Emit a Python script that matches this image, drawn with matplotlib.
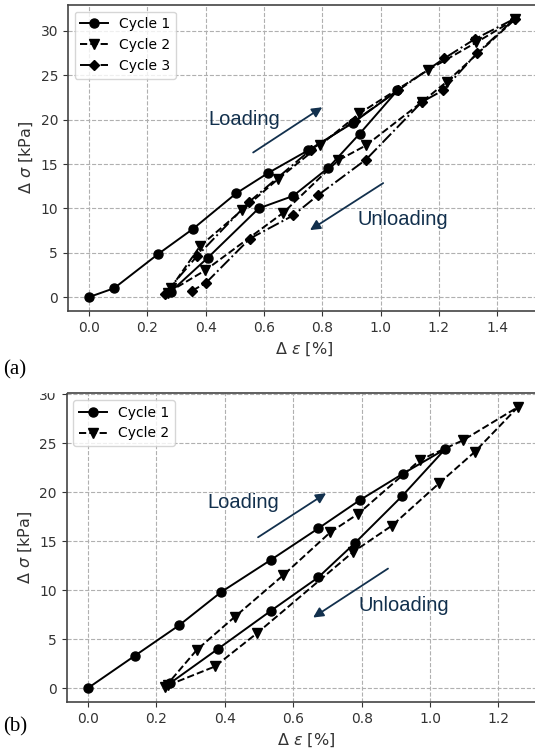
import numpy as np
import matplotlib.pyplot as plt
from matplotlib.patches import Rectangle

# (a) three cycles: loading then unloading, strain in %, stress in kPa
a_c1_x = [0.0, 0.086, 0.237, 0.357, 0.505, 0.615, 0.752, 0.906, 1.058,
          0.928, 0.82, 0.70, 0.582, 0.408, 0.280]
a_c1_y = [0.0, 1.0, 4.85, 7.7, 11.7, 14.0, 16.55, 19.65, 23.3,
          18.4, 14.55, 11.4, 10.0, 4.45, 0.6]
a_c2_x = [0.28, 0.381, 0.525, 0.648, 0.792, 0.927, 1.163, 1.328, 1.461,
          1.228, 1.142, 0.95, 0.854, 0.666, 0.398, 0.27]
a_c2_y = [1.0, 5.75, 9.8, 13.3, 17.1, 20.7, 25.6, 28.7, 31.3,
          24.3, 22.0, 17.1, 15.4, 9.5, 3.0, 0.5]
a_c3_x = [0.26, 0.37, 0.548, 0.76, 0.913, 1.06, 1.218, 1.324, 1.461,
          1.331, 1.214, 1.142, 0.95, 0.786, 0.70, 0.552, 0.401, 0.353]
a_c3_y = [0.4, 4.6, 10.7, 16.6, 19.9, 23.3, 26.9, 29.1, 31.4,
          27.5, 23.3, 22.0, 15.5, 11.5, 9.2, 6.6, 1.6, 0.7]

# (b) two cycles
b_c1_x = [0.0, 0.137, 0.266, 0.389, 0.535, 0.673, 0.795, 0.921, 1.044,
          0.918, 0.78, 0.673, 0.535, 0.38, 0.24]
b_c1_y = [0.0, 3.3, 6.4, 9.8, 13.1, 16.3, 19.2, 21.9, 24.4,
          19.6, 14.8, 11.3, 7.9, 4.0, 0.5]
b_c2_x = [0.225, 0.318, 0.43, 0.57, 0.708, 0.79, 0.971, 1.096, 1.257,
          1.13, 1.026, 0.889, 0.775, 0.494, 0.371, 0.235]
b_c2_y = [0.1, 3.9, 7.3, 11.5, 15.9, 17.8, 23.3, 25.3, 28.7,
          24.1, 20.9, 16.6, 13.9, 5.6, 2.2, 0.3]

navy = '#12304d'

fig = plt.figure(figsize=(5.35, 7.56), dpi=100)
# both panels run past the right edge (cropped in the source)
ax1 = fig.add_axes([0.1266, 0.5886, 0.8828, 0.4053])
ax2 = fig.add_axes([0.1243, 0.0714, 0.8944, 0.4087])


def style_axes(ax):
    ax.grid(True, linestyle='--', color='#b0b0b0', linewidth=0.8)
    ax.set_axisbelow(True)
    for sp in ax.spines.values():
        sp.set_color('#444444')
        sp.set_linewidth(1.2)
    ax.tick_params(labelsize=10, colors='#333333')
    ax.set_xlabel(r'$\Delta\ \varepsilon$ [%]', fontsize=11.5, color='#333333')
    ax.set_ylabel(r'$\Delta\ \sigma$ [kPa]', fontsize=11.5, color='#333333')


def arrow(ax, tail, tip):
    ax.annotate('', xy=tip, xytext=tail,
                arrowprops=dict(arrowstyle='-|>', color=navy, lw=1.3,
                                mutation_scale=15, shrinkA=0, shrinkB=0))


# ---- (a)
ax1.plot(a_c1_x, a_c1_y, '-', marker='o', color='black', ms=6.5, lw=1.4, label='Cycle 1')
ax1.plot(a_c2_x, a_c2_y, '--', marker='v', color='black', ms=6.5, lw=1.4, label='Cycle 2')
ax1.plot(a_c3_x, a_c3_y, '-.', marker='D', color='black', ms=5.5, lw=1.4, label='Cycle 3')
ax1.set_xlim(-0.073, 1.547)
ax1.set_ylim(-1.57, 32.97)
ax1.set_xticks(np.arange(0, 1.41, 0.2))
ax1.set_yticks([0, 5, 10, 15, 20, 25, 30])
style_axes(ax1)
ax1.legend(loc='upper left', fontsize=10)
ax1.text(0.408, 20.0, 'Loading', fontsize=14.5, color=navy,
         family='Liberation Sans', va='center')
arrow(ax1, (0.563, 16.3), (0.80, 21.4))
ax1.text(0.92, 8.8, 'Unloading', fontsize=14.5, color=navy,
         family='Liberation Sans', va='center')
arrow(ax1, (1.009, 12.85), (0.758, 7.55))

# ---- (b)
ax2.plot(b_c1_x, b_c1_y, '-', marker='o', color='black', ms=6.5, lw=1.4, label='Cycle 1')
ax2.plot(b_c2_x, b_c2_y, '--', marker='v', color='black', ms=6.5, lw=1.4, label='Cycle 2')
ax2.set_xlim(-0.063, 1.336)
ax2.set_ylim(-1.43, 30.13)
ax2.set_xticks(np.arange(0, 1.21, 0.2))
ax2.set_yticks([0, 5, 10, 15, 20, 25, 30])
style_axes(ax2)
ax2.legend(loc='upper left', fontsize=10)
ax2.text(0.348, 18.9, 'Loading', fontsize=14.5, color=navy,
         family='Liberation Sans', va='center')
arrow(ax2, (0.497, 15.4), (0.696, 19.9))
ax2.text(0.792, 8.4, 'Unloading', fontsize=14.5, color=navy,
         family='Liberation Sans', va='center')
arrow(ax2, (0.877, 12.2), (0.658, 7.2))

# panel tags
fig.text(3 / 535, 1 - 370 / 756, '(a)', fontsize=15, family='Liberation Serif', va='center')
fig.text(3 / 535, 1 - 727 / 756, '(b)', fontsize=15, family='Liberation Serif', va='center')

# the lower panel was cropped at its top in the source figure
fig.patches.append(Rectangle((35 / 535, 1 - 392 / 756), 31 / 535, 12 / 756,
                             transform=fig.transFigure, color='white', zorder=10))

fig.savefig('out.png', dpi=100)
